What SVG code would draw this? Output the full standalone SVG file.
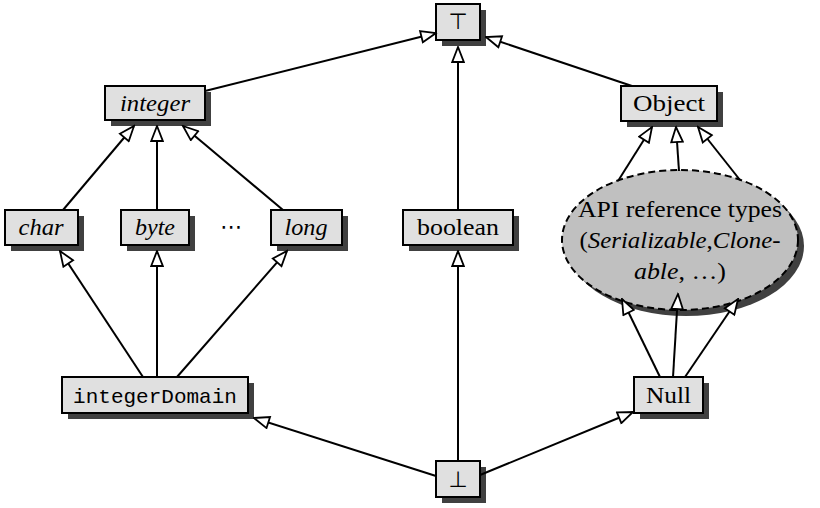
<svg xmlns="http://www.w3.org/2000/svg" width="820" height="508" viewBox="0 0 820 508">
<style>
.box{fill:#e0e0e0;stroke:#000;stroke-width:2}
.sh{fill:#404040}
.t{font-family:"Liberation Serif","Times New Roman",serif;font-size:24px;fill:#000;text-anchor:middle}
.e{font-family:"Liberation Serif","Times New Roman",serif;font-size:23px;fill:#000;text-anchor:middle}
.i{font-style:italic}
.m{font-family:"Liberation Mono",monospace;font-size:21px;fill:#000;text-anchor:middle}
.sym{font-family:"DejaVu Sans",sans-serif;font-size:22px;fill:#000;text-anchor:middle}
.c line{stroke:#000;stroke-width:2;marker-end:url(#oa)}
</style>
<defs>
<marker id="oa" markerUnits="userSpaceOnUse" viewBox="0 0 18 14" markerWidth="18" markerHeight="14" refX="16.5" refY="7" orient="auto">
<path d="M1.5,1.2 L16.5,7 L1.5,12.8 Z" fill="#fff" stroke="#000" stroke-width="1.8" stroke-linejoin="miter"/>
</marker>
</defs>
<rect width="820" height="508" fill="#fff"/>

<g id="top">
<rect class="sh" x="442" y="10" width="44" height="36"/>
<rect class="box" x="436" y="4" width="44" height="36"/>
<text class="sym" x="458" y="29">⊤</text>
</g>
<g id="integer">
<rect class="sh" x="111" y="92" width="100" height="34"/>
<rect class="box" x="105" y="86" width="100" height="34"/>
<text class="t i" x="155" y="111" textLength="70" lengthAdjust="spacingAndGlyphs">integer</text>
</g>
<g id="object">
<rect class="sh" x="627" y="92" width="96" height="35"/>
<rect class="box" x="621" y="86" width="96" height="35"/>
<text class="t" x="669" y="111" textLength="72" lengthAdjust="spacingAndGlyphs">Object</text>
</g>
<g id="char">
<rect class="sh" x="11" y="216" width="73" height="35"/>
<rect class="box" x="5" y="210" width="73" height="35"/>
<text class="t i" x="41" y="235" textLength="45" lengthAdjust="spacingAndGlyphs">char</text>
</g>
<g id="byte">
<rect class="sh" x="127" y="216" width="68" height="35"/>
<rect class="box" x="121" y="210" width="68" height="35"/>
<text class="t i" x="155" y="235" textLength="40" lengthAdjust="spacingAndGlyphs">byte</text>
</g>
<text class="sym" x="231" y="234" textLength="26" lengthAdjust="spacing">⋯</text>
<g id="long">
<rect class="sh" x="277" y="216" width="71" height="35"/>
<rect class="box" x="271" y="210" width="71" height="35"/>
<text class="t i" x="306" y="235" textLength="43" lengthAdjust="spacingAndGlyphs">long</text>
</g>
<g id="boolean">
<rect class="sh" x="409" y="216" width="110" height="35"/>
<rect class="box" x="403" y="210" width="110" height="35"/>
<text class="t" x="458" y="235" textLength="82" lengthAdjust="spacingAndGlyphs">boolean</text>
</g>
<g id="apitypes">
<ellipse cx="686" cy="246" rx="118" ry="70" fill="#404040"/>
<ellipse cx="680" cy="240" rx="118" ry="70" fill="#c0c0c0" stroke="#000" stroke-width="2" stroke-dasharray="7 4"/>
<text class="e" x="680" y="217" textLength="204" lengthAdjust="spacingAndGlyphs">API reference types</text>
<text class="e" x="680" y="248" textLength="201" lengthAdjust="spacingAndGlyphs">(<tspan class="i">Serializable</tspan>,<tspan class="i">Clone-</tspan></text>
<text class="e" x="680" y="279" textLength="92" lengthAdjust="spacingAndGlyphs"><tspan class="i">able</tspan>, …)</text>
</g>
<g id="integerDomain">
<rect class="sh" x="68" y="383" width="186" height="36"/>
<rect class="box" x="62" y="377" width="186" height="36"/>
<text class="m" x="155" y="403">integerDomain</text>
</g>
<g id="null">
<rect class="sh" x="640" y="383" width="69" height="36"/>
<rect class="box" x="634" y="377" width="69" height="36"/>
<text class="t" x="668.5" y="403" textLength="45" lengthAdjust="spacingAndGlyphs">Null</text>
</g>
<g id="bottom">
<rect class="sh" x="442" y="467" width="44" height="36"/>
<rect class="box" x="436" y="461" width="44" height="36"/>
<text class="sym" x="458" y="487">⊥</text>
</g>

<g id="connectors" class="c">
<line x1="205" y1="91" x2="436" y2="33"/>
<line x1="632" y1="86" x2="486" y2="37"/>
<line x1="458" y1="210" x2="458" y2="47"/>
<line x1="63" y1="210" x2="134" y2="126"/>
<line x1="157" y1="210" x2="157" y2="126"/>
<line x1="283" y1="210" x2="183" y2="126"/>
<line x1="618" y1="181" x2="652" y2="127"/>
<line x1="679" y1="171" x2="676" y2="127"/>
<line x1="740" y1="180" x2="698" y2="127"/>
<line x1="143" y1="377" x2="60" y2="251"/>
<line x1="157" y1="377" x2="157" y2="251"/>
<line x1="177" y1="377" x2="287" y2="251"/>
<line x1="458" y1="461" x2="458" y2="251"/>
<line x1="660" y1="377" x2="622" y2="299"/>
<line x1="673" y1="377" x2="678" y2="294"/>
<line x1="685" y1="377" x2="738" y2="299"/>
<line x1="436" y1="476" x2="254" y2="418"/>
<line x1="480" y1="475" x2="633" y2="412"/>
</g>
</svg>
